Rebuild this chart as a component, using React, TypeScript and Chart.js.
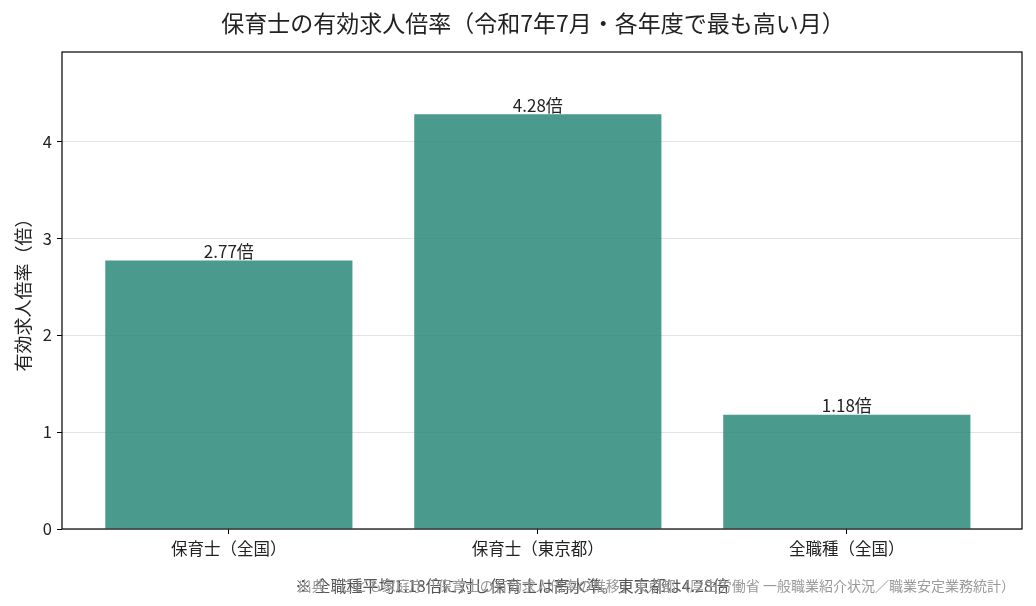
import { useEffect, useRef } from 'react';
import { Chart, registerables } from 'chart.js';

Chart.register(...registerables);

// chart values
const categories = ['保育士（全国）', '保育士（東京都）', '全職種（全国）'];
const ratios = [2.77, 4.28, 1.18];
const yTicks = [0, 1, 2, 3, 4];

const TITLE = '保育士の有効求人倍率（令和7年7月・各年度で最も高い月）';
const NOTE = '※ 全職種平均1.18倍に対し保育士は高水準。東京都は4.28倍';
const SOURCE =
  '出典：こども家庭庁「保育士の有効求人倍率の推移」東京都（厚生労働省 一般職業紹介状況／職業安定業務統計）';

const FONT = "'Noto Sans CJK JP', 'Noto Sans', sans-serif";

const framePlugin = {
  id: 'frame',
  afterDraw(chart: Chart) {
    const { ctx, chartArea: a } = chart;
    ctx.save();
    ctx.strokeStyle = '#000';
    ctx.lineWidth = 1.2;
    ctx.strokeRect(a.left, a.top, a.right - a.left, a.bottom - a.top);
    ctx.restore();
  },
};

const valueLabels = {
  id: 'valueLabels',
  afterDatasetsDraw(chart: Chart) {
    const { ctx } = chart;
    const meta = chart.getDatasetMeta(0);
    ctx.save();
    ctx.fillStyle = '#222';
    ctx.font = `17px ${FONT}`;
    ctx.textAlign = 'center';
    ctx.textBaseline = 'bottom';
    meta.data.forEach((el: any, i) => {
      ctx.fillText(`${ratios[i].toFixed(2)}倍`, el.x, el.y - 0.5);
    });
    ctx.restore();
  },
};

export default function App() {
  const canvasRef = useRef<HTMLCanvasElement>(null);

  useEffect(() => {
    document.body.style.margin = '0';
    if (!canvasRef.current) return;
    const chart = new Chart(canvasRef.current, {
      type: 'bar',
      data: {
        datasets: [
          {
            data: ratios.map((v, i) => ({ x: i, y: v })),
            backgroundColor: 'rgba(44, 136, 122, 0.85)',
            barPercentage: 0.8,
            categoryPercentage: 1,
          },
        ],
      },
      options: {
        responsive: false,
        animation: false,
        layout: { padding: { top: 52, right: 14, left: 0, bottom: 0 } },
        plugins: {
          legend: { display: false },
          tooltip: { enabled: false },
        },
        scales: {
          x: {
            type: 'linear',
            min: -0.54,
            max: 2.567,
            offset: false,
            afterBuildTicks: (s: any) => {
              s.ticks = categories.map((_, i) => ({ value: i }));
            },
            afterFit: (s: any) => {
              s.height = 77;
            },
            border: { display: false },
            grid: {
              offset: false,
              drawOnChartArea: false,
              tickLength: 5,
              tickColor: '#000',
            },
            ticks: {
              color: '#222',
              font: { family: FONT, size: 16.5 },
              padding: 5,
              maxRotation: 0,
              callback: (v: any) => categories[v] ?? '',
            },
          },
          y: {
            min: 0,
            max: 4.922,
            z: 1,
            afterBuildTicks: (s: any) => {
              s.ticks = yTicks.map((v) => ({ value: v }));
            },
            afterFit: (s: any) => {
              s.width = 62;
            },
            border: { display: false },
            grid: {
              color: 'rgba(176, 176, 176, 0.35)',
              tickLength: 5,
              tickColor: '#000',
            },
            ticks: {
              color: '#222',
              font: { family: FONT, size: 16.5 },
              padding: 5,
            },
            title: {
              display: true,
              text: '有効求人倍率（倍）',
              color: '#222',
              font: { family: FONT, size: 18 },
              padding: { top: 12, bottom: 2 },
            },
          },
        },
      },
      plugins: [valueLabels, framePlugin],
    });
    return () => chart.destroy();
  }, []);

  return (
    <div style={{ position: 'relative', width: 1036, height: 606, background: '#fff', fontFamily: FONT }}>
      <canvas ref={canvasRef} width={1036} height={606} style={{ position: 'absolute', left: 0, top: 0 }} />
      <div
        style={{
          position: 'absolute',
          top: 5,
          left: 0,
          width: 1066,
          textAlign: 'center',
          fontSize: 23,
          color: '#222',
          whiteSpace: 'nowrap',
        }}
      >
        {TITLE}
      </div>
      <div
        style={{
          position: 'absolute',
          top: 573,
          left: 295,
          fontSize: 16,
          color: '#555',
          whiteSpace: 'nowrap',
        }}
      >
        {NOTE}
      </div>
      <div
        style={{
          position: 'absolute',
          top: 575,
          right: 21,
          fontSize: 14,
          color: '#999',
          whiteSpace: 'nowrap',
        }}
      >
        {SOURCE}
      </div>
    </div>
  );
}
